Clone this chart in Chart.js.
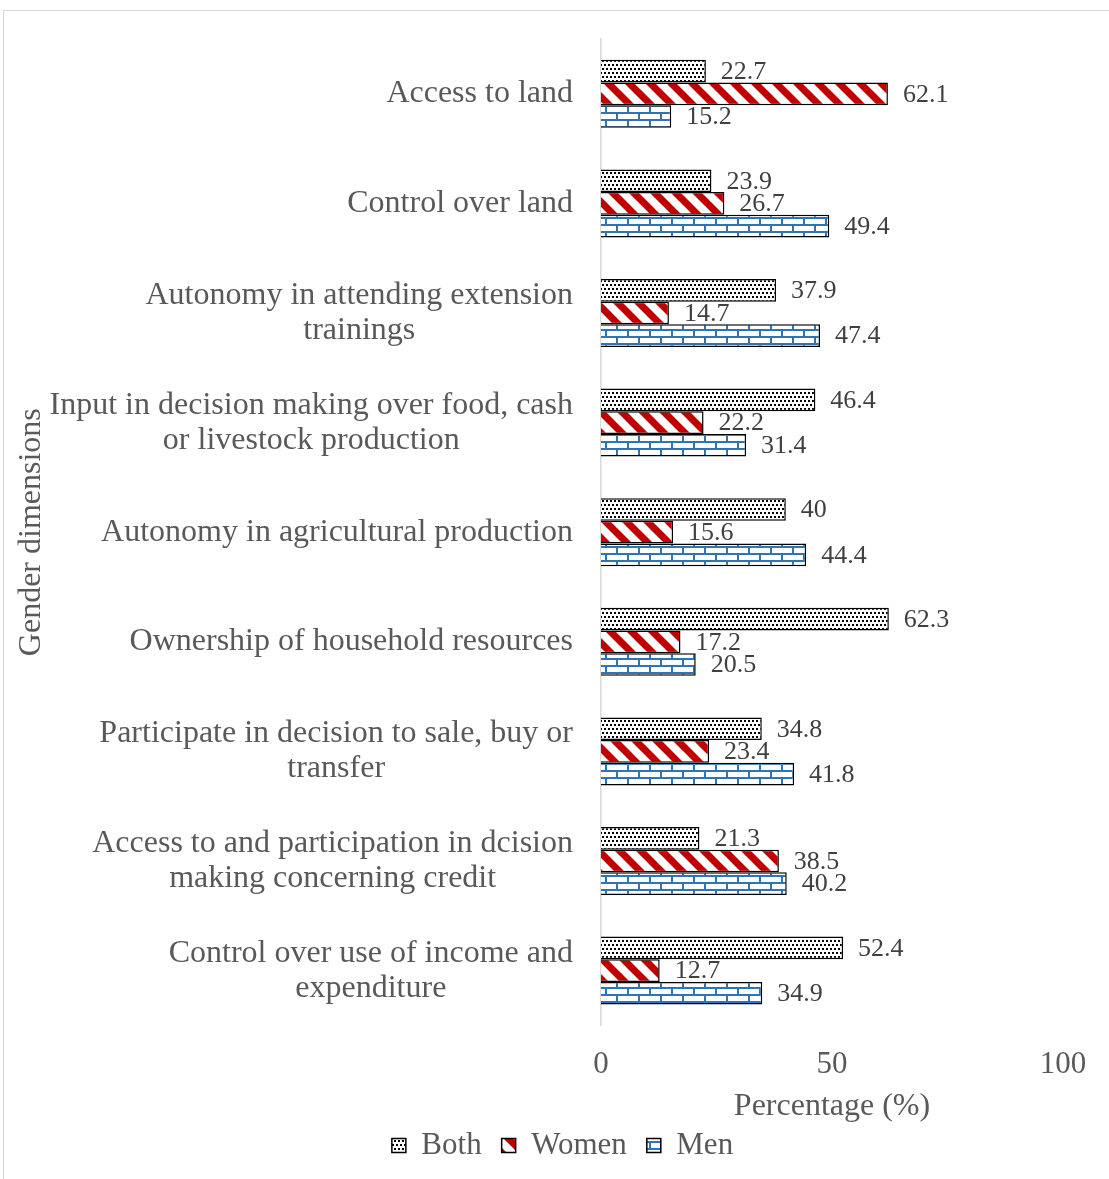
<!DOCTYPE html>
<html><head><meta charset="utf-8">
<script src="https://cdn.jsdelivr.net/npm/chart.js@4/dist/chart.umd.min.js"></script>
<style>
html,body{margin:0;padding:0;background:#fff;overflow:hidden}
#frame{position:absolute;left:3px;top:10px;width:1130px;height:1190px;border:1px solid #d9d9d9;box-sizing:border-box}
#wrap{position:absolute;left:0;top:0;width:1109px;height:1179px}
</style></head><body>
<div id="frame"></div>
<div id="wrap"><canvas id="c"></canvas></div>
<script>
const categories = [
  ["Access to land"],
  ["Control over land"],
  ["Autonomy in attending extension", "trainings"],
  ["Input in decision making over food, cash", "or livestock production"],
  ["Autonomy in agricultural production"],
  ["Ownership of household resources"],
  ["Participate in decision to sale, buy or", "transfer"],
  ["Access to and participation in dcision", "making concerning credit"],
  ["Control over use of income and", "expenditure"]
];
const bothValues  = [22.7, 23.9, 37.9, 46.4, 40, 62.3, 34.8, 21.3, 52.4];
const womenValues = [62.1, 26.7, 14.7, 22.2, 15.6, 17.2, 23.4, 38.5, 12.7];
const menValues   = [15.2, 49.4, 47.4, 31.4, 44.4, 20.5, 41.8, 40.2, 34.9];
const seriesNames = ["Both", "Women", "Men"];
const xTickValues = [0, 50, 100];
const xTitle = "Percentage (%)";
const yTitle = "Gender dimensions";

const FONT = '"Liberation Serif", "Times New Roman", serif';
const TEXT = '#595959';

function makePattern(w, h, draw) {
  const c = document.createElement('canvas');
  c.width = w; c.height = h;
  const g = c.getContext('2d');
  g.fillStyle = '#fff'; g.fillRect(0, 0, w, h);
  draw(g, w, h);
  return document.createElement('canvas').getContext('2d').createPattern(c, 'repeat');
}
const dotsPattern = makePattern(4, 8, g => {
  g.fillStyle = '#000';
  g.fillRect(0, 0, 2, 2);
  g.fillRect(2, 4, 2, 2);
});
const stripePattern = makePattern(21, 21, g => {
  g.strokeStyle = '#C00000';
  g.lineWidth = 7;
  for (const k of [-21, 0, 21]) {
    g.beginPath(); g.moveTo(k - 5, -5); g.lineTo(k + 26, 26); g.stroke();
  }
});
const brickPattern = makePattern(22, 14, g => {
  g.fillStyle = '#2E75B6';
  g.fillRect(0, 0, 22, 2);
  g.fillRect(0, 7, 22, 2);
  g.fillRect(0, 2, 2, 5);
  g.fillRect(11, 9, 2, 5);
});

const PLOT_LEFT = 601;

const valueLabels = {
  id: 'valueLabels',
  afterDatasetsDraw(chart) {
    const ctx = chart.ctx;
    ctx.save();
    ctx.font = '26px ' + FONT;
    ctx.fillStyle = '#404040';
    ctx.textAlign = 'left';
    ctx.textBaseline = 'middle';
    chart.data.datasets.forEach((ds, i) => {
      chart.getDatasetMeta(i).data.forEach((bar, j) => {
        ctx.fillText(String(ds.data[j]), bar.x + 15, bar.y + 1);
      });
    });
    ctx.restore();
  }
};

const categoryLabels = {
  id: 'categoryLabels',
  afterDraw(chart) {
    const s = chart.scales.y;
    const ctx = chart.ctx;
    ctx.save();
    ctx.font = '32px ' + FONT;
    ctx.fillStyle = TEXT;
    ctx.textAlign = 'center';
    ctx.textBaseline = 'middle';
    const lineH = 35;
    chart.data.labels.forEach((lines, i) => {
      const y = s.getPixelForTick(i);
      const w = Math.max(...lines.map(l => ctx.measureText(l).width));
      const cx = s.right - 28 - w / 2;
      const y0 = y - (lines.length - 1) * lineH / 2;
      lines.forEach((l, k) => ctx.fillText(l, cx, y0 + k * lineH));
    });
    ctx.restore();
  }
};

const legendShift = {
  id: 'legendShift',
  afterLayout(chart) {
    if (chart.legend) { chart.legend.left += 31; chart.legend.right += 31; }
  }
};

new Chart(document.getElementById('c'), {
  type: 'bar',
  data: {
    labels: categories,
    datasets: [
      { label: seriesNames[0], data: bothValues,  backgroundColor: dotsPattern,   borderColor: '#000', borderWidth: 1.5 },
      { label: seriesNames[1], data: womenValues, backgroundColor: stripePattern, borderColor: '#000', borderWidth: 1.5 },
      { label: seriesNames[2], data: menValues,   backgroundColor: brickPattern,  borderColor: '#000', borderWidth: 1.5 }
    ]
  },
  options: {
    indexAxis: 'y',
    responsive: true,
    maintainAspectRatio: false,
    animation: false,
    datasets: { bar: { categoryPercentage: 0.62, barPercentage: 1.0 } },
    layout: { padding: { left: 0, right: 46, top: 39, bottom: 8 } },
    scales: {
      x: {
        min: 0, max: 100,
        afterBuildTicks(scale) { scale.ticks = xTickValues.map(v => ({ value: v })); },
        grid: { display: false, drawTicks: false },
        border: { display: false },
        ticks: { font: { family: FONT, size: 31 }, color: TEXT, padding: 21 },
        title: { display: true, text: xTitle, font: { family: FONT, size: 32 }, color: TEXT, padding: { top: -17, bottom: -16 } }
      },
      y: {
        grid: { display: false, drawTicks: false },
        border: { display: true, color: '#d9d9d9', width: 1.5 },
        ticks: { display: false },
        afterFit(scale) { scale.width = PLOT_LEFT; },
        title: { display: true, text: yTitle, font: { family: FONT, size: 32 }, color: TEXT, padding: { top: 12, bottom: 0 } }
      }
    },
    plugins: {
      legend: {
        position: 'bottom',
        labels: { font: { family: FONT, size: 31 }, color: TEXT, boxWidth: 14, boxHeight: 14, padding: 20 }
      },
      tooltip: { enabled: false }
    }
  },
  plugins: [valueLabels, categoryLabels, legendShift]
});
</script>
</body></html>
